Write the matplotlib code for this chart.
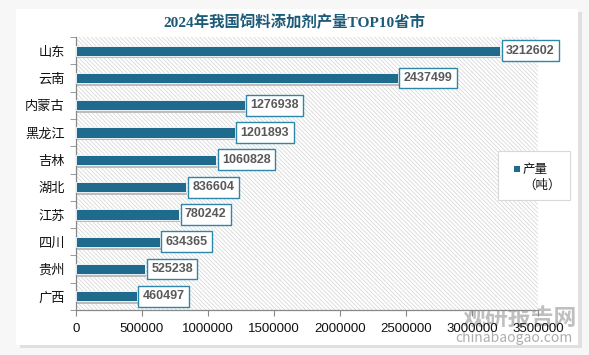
import matplotlib
matplotlib.use("Agg")
import matplotlib.pyplot as plt
from matplotlib.patches import Rectangle

plt.rcParams['font.family'] = ['Noto Sans CJK SC', 'DejaVu Sans']
plt.rcParams['hatch.color'] = '#d9d9d9'
plt.rcParams['hatch.linewidth'] = 0.6

provinces = ["山东", "云南", "内蒙古", "黑龙江", "吉林", "湖北", "江苏", "四川", "贵州", "广西"]
values = [3212602, 2437499, 1276938, 1201893, 1060828, 836604, 780242, 634365, 525238, 460497]
xticks = [0, 500000, 1000000, 1500000, 2000000, 2500000, 3000000, 3500000]
title = "2024年我国饲料添加剂产量TOP10省市"
legend_label = "产量\n（吨）"

W, H = 589, 355
fig = plt.figure(figsize=(W/100, H/100), dpi=100)
fig.patch.set_facecolor('#f7f7f7')

# card with shadow
fig.patches.append(Rectangle((20/W, 1 - 348/H), 562/W, 336/H, transform=fig.transFigure,
                             facecolor='#e0e0e0', edgecolor='none', zorder=-5))
fig.patches.append(Rectangle((16/W, 1 - 345/H), 562/W, 336/H, transform=fig.transFigure,
                             facecolor='white', edgecolor='none', zorder=-4))

ax = fig.add_axes([76/W, 1 - 310/H, (538-76)/W, (310-37)/H])
ax.set_zorder(1)
ax.set_facecolor('white')
ax.patch.set_hatch('\\\\\\\\\\\\\\\\')
ax.patch.set_edgecolor('#d9d9d9')
ax.patch.set_linewidth(0)

n = len(provinces)
ypos = list(range(n))
bar_color = '#1e6b8e'
bh = 0.37
# shadows
ax.barh([y + 0.1 for y in ypos], values, height=bh, color='#bdbdbd', left=6000, zorder=2)
ax.barh(ypos, values, height=bh, color=bar_color, zorder=3, edgecolor='white', linewidth=0.6)

ax.set_xlim(0, 3500000)
ax.set_ylim(n - 0.5, -0.5)
ax.set_yticks(ypos)
ax.set_yticklabels(provinces, fontsize=9.5, color='#111111')
ax.set_xticks(xticks)
ax.set_xticklabels([str(t) for t in xticks], fontsize=9.5, color='#111111',
                   family=['Liberation Sans', 'DejaVu Sans'])
ax.set_yticks([i + 0.5 for i in range(-1, n)], minor=True)
ax.tick_params(axis='y', which='major', length=0, pad=8)
ax.tick_params(axis='y', which='minor', length=4, color='#888888')
ax.tick_params(axis='x', length=4, color='#888888', pad=5)
for s in ['top', 'right']:
    ax.spines[s].set_visible(False)
for s in ['left', 'bottom']:
    ax.spines[s].set_color('#888888')
    ax.spines[s].set_linewidth(0.9)

for y, v in zip(ypos, values):
    ax.annotate(str(v), xy=(v, y), xytext=(4.3, 0), textcoords='offset points',
                ha='left', va='center', fontsize=9, fontweight='bold', color='#595959',
                family=['Liberation Sans', 'DejaVu Sans'], zorder=5,
                bbox=dict(boxstyle='square,pad=0.35', facecolor='white',
                          edgecolor='#2e86ab', linewidth=1.0))

fig.text(0.5, 1 - 22/H, title, ha='center', va='center', fontsize=11.1, fontweight='bold',
         color='#1d5a78', family=['Liberation Serif', 'Noto Sans CJK SC'])

# legend box
fig.patches.append(Rectangle((498/W, 1 - 200/H), 72/W, 49/H, transform=fig.transFigure,
                             facecolor='white', edgecolor='#d9d9d9', linewidth=0.8, zorder=6))
fig.patches.append(Rectangle((514/W, 1 - 172/H), 6/W, 6/H, transform=fig.transFigure,
                             facecolor=bar_color, edgecolor='none', zorder=7))
fig.text(523/W, 1 - 177/H, legend_label, ha='left', va='center', fontsize=9,
         color='#111111', zorder=8, linespacing=1.3)

# watermark
fig.text(520/W, 1 - 319/H, "观研报告网", ha='center', va='center', fontsize=16.5,
         fontweight='bold', color='#8c8c8c', alpha=0.55, zorder=0.5)
fig.text(514/W, 1 - 338/H, "chinabaogao.com", ha='center', va='center', fontsize=10,
         color='#8c8c8c', alpha=0.7, zorder=0.5)

fig.savefig('out.png', dpi=100)
